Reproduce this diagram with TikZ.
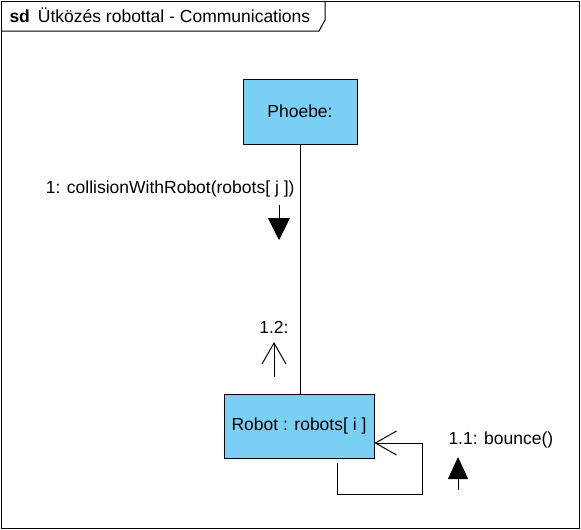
\documentclass[tikz,border=0pt]{standalone}
\usepackage{fontspec}
\setmainfont{Liberation Sans}
\usetikzlibrary{arrows.meta,positioning}
\definecolor{objblue}{RGB}{122,207,245}

\begin{document}
\begin{tikzpicture}[x=1pt, y=-1pt, line width=1pt,
    obj/.style={draw, fill=objblue, inner sep=0pt, font=\fontsize{17.5}{20}\selectfont},
    lbl/.style={inner sep=0pt, font=\fontsize{17.5}{20}\selectfont},
    filled/.style={-{Triangle[length=22pt, width=22pt]}},
    open/.style={-{Straight Barb[length=21pt, width=24pt]}}]
        \useasboundingbox (0, 0) rectangle (581, 530);

        % frame and its title tab
        \draw (1, 1) rectangle (579, 528);
        \draw (1, 31) -- (319, 31) -- (325, 20) -- (325, 1);
        \node[lbl, anchor=base west] (title) at (9, 23) {\textbf{sd}\hspace{8pt}Ütközés robottal - Communications};

        % objects
        \node[obj, minimum width=114pt, minimum height=65pt] (phoebe) at (300, 111.5) {Phoebe:};
        \node[obj, minimum width=150pt, minimum height=64pt] (robot) at (299, 426) {Robot : robots[ i ]};

        % links
        \draw (phoebe.south) -- (phoebe.south |- robot.north);
        \draw[open] ([xshift=38pt, yshift=-4pt]robot.south) |- (422, 494) |- ([yshift=-17pt]robot.east);

        % messages
        \coordinate (m1s) at (279, 205);
        \coordinate (m1e) at (279, 240);
        \draw[filled] (m1s) -- (m1e);
        \node[lbl, anchor=base east] (m1) at (295, 193) {1: collisionWithRobot(robots[ j ])};

        \coordinate (m12s) at (274, 377);
        \coordinate (m12e) at (274, 342);
        \draw[open] (m12s) -- (m12e);
        \node[lbl, anchor=base east] (m12) at (289, 333) {1.2:};

        \coordinate (m11s) at (458, 490);
        \coordinate (m11e) at (458, 457);
        \draw[-{Triangle[length=22pt, width=20pt]}] (m11s) -- (m11e);
        \node[lbl, anchor=base west] (m11) at (448, 444) {1.1: bounce()};
    \end{tikzpicture}
\end{document}
